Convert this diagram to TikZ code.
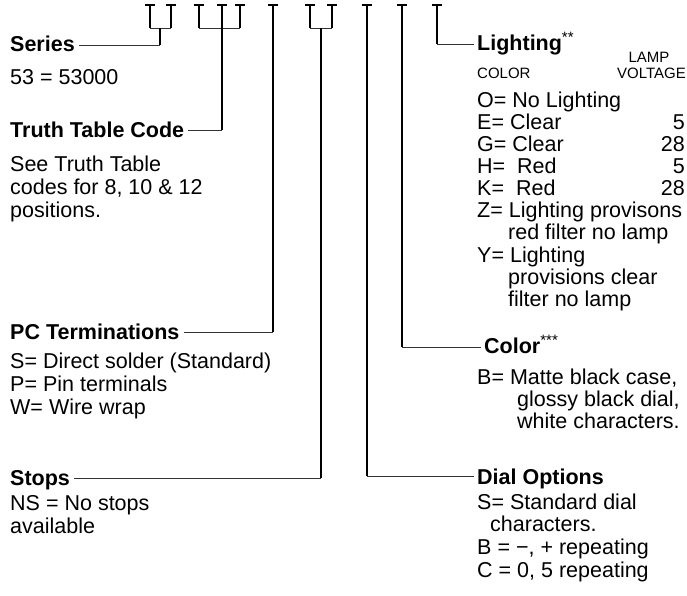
\documentclass[tikz,border=0pt]{standalone}
\usepackage{fontspec}
\setmainfont{Liberation Sans}
\begin{document}
\begin{tikzpicture}[x=1pt,y=-1pt,
  txt/.style={anchor=base west, inner sep=0pt, font=\fontsize{21.5}{24}\selectfont},
  txtr/.style={anchor=base east, inner sep=0pt, font=\fontsize{21.5}{24}\selectfont},
  head/.style={anchor=base west, inner sep=0pt, font=\fontsize{21.5}{24}\selectfont\bfseries},
  smalltxt/.style={inner sep=0pt, font=\fontsize{15}{17}\selectfont},
  tick/.style={fill=black, draw=none, minimum width=10pt, minimum height=2.4pt, inner sep=0pt},
  stem/.style={line width=1.3pt, black},
  conn/.style={line width=0.7pt, black!80}]
\useasboundingbox (0,0) rectangle (687,595);

% ---- top digit marks ----
\node[tick] (m1) at (150,5) {};
\node[tick] (m2) at (171,5) {};
\node[tick] (m3) at (199,5) {};
\node[tick] (m4) at (222,5) {};
\node[tick] (m5) at (240,5) {};
\node[tick] (m6) at (273,5) {};
\node[tick] (m7) at (310,5) {};
\node[tick] (m8) at (332,5) {};
\node[tick] (m9) at (367,5) {};
\node[tick] (m10) at (402,5) {};
\node[tick] (m11) at (437,5) {};

% ---- left column ----
\node[head] (series) at (10,51) {Series};
\node[txt] (series1) at (10,84) {53 = 53000};
\node[head] (ttc) at (10,137) {Truth Table Code};
\node[txt] (ttc1) at (10,171) {See Truth Table};
\node[txt] (ttc2) at (10,194) {codes for 8, 10 \& 12};
\node[txt] (ttc3) at (10,217) {positions.};
\node[head] (pc) at (10,339) {PC Terminations};
\node[txt] (pc1) at (10,368) {S= Direct solder (Standard)};
\node[txt] (pc2) at (10,391) {P= Pin terminals};
\node[txt] (pc3) at (10,414) {W= Wire wrap};
\node[head] (stops) at (10,485) {Stops};
\node[txt] (stops1) at (10,510) {NS = No stops};
\node[txt] (stops2) at (10,533) {available};

% ---- right column ----
\node[head] (light) at (477,50) {Lighting{\normalfont\textsuperscript{**}}};
\node[smalltxt, anchor=base] (lamp) at (649,62) {LAMP};
\node[smalltxt, anchor=base west] (colhd) at (477,78) {COLOR};
\node[smalltxt, anchor=base east] (volt) at (686,78) {VOLTAGE};
\node[txt] (lo) at (477,107) {O= No Lighting};
\node[txt] (le) at (477,129) {E= Clear};
\node[txtr] (le5) at (685,129) {5};
\node[txt] (lg) at (477,151) {G= Clear};
\node[txtr] (lg28) at (685,151) {28};
\node[txt] (lh) at (477,173) {H=\ \ Red};
\node[txtr] (lh5) at (685,173) {5};
\node[txt] (lk) at (477,195) {K=\ \ Red};
\node[txtr] (lk28) at (685,195) {28};
\node[txt] (lz) at (477,217) {Z= Lighting provisons};
\node[txt] (lz2) at (508,239) {red filter no lamp};
\node[txt] (ly) at (477,262) {Y= Lighting};
\node[txt] (ly2) at (508,284) {provisions clear};
\node[txt] (ly3) at (508,306) {filter no lamp};

\node[head] (color) at (484,353) {Color{\normalfont\textsuperscript{***}}};
\node[txt] (cb) at (477,384) {B= Matte black case,};
\node[txt] (cb2) at (517,406) {glossy black dial,};
\node[txt] (cb3) at (517,428) {white characters.};

\node[head] (dial) at (477,484) {Dial Options};
\node[txt] (ds) at (477,509) {S= Standard dial};
\node[txt] (ds2) at (490,531) {characters.};
\node[txt] (db) at (477,554) {B = −, + repeating};
\node[txt] (dc) at (477,577) {C = 0, 5 repeating};

% ---- connector coordinates ----
\coordinate (sbr) at (160,28);
\coordinate (sc) at (160,45);
\coordinate (tbr) at (222,28);
\coordinate (tc) at (222,130);
\coordinate (pcc) at (273,332);
\coordinate (stbr) at (321,28);
\coordinate (stc) at (321,478);
\coordinate (dc1) at (367,476);
\coordinate (cc) at (402,347);
\coordinate (lc) at (437,44);

% Series
\draw[stem] (m1.south) -- (m1.south |- sbr);
\draw[stem] (m2.south) -- (m2.south |- sbr);
\draw[conn] (m1.south |- sbr) -- (m2.south |- sbr);
\draw[stem] (sbr) -- (sc);
\draw[conn] (sc) -- ([xshift=4pt]series.east |- sc);

% Truth Table Code
\draw[stem] (m3.south) -- (m3.south |- tbr);
\draw[stem] (m5.south) -- (m5.south |- tbr);
\draw[conn] (m3.south |- tbr) -- (m5.south |- tbr);
\draw[stem] (m4.south) -- (tc);
\draw[conn] (tc) -- ([xshift=4pt]ttc.east |- tc);

% PC Terminations
\draw[stem] (m6.south) -- (pcc);
\draw[conn] (pcc) -- ([xshift=4pt]pc.east |- pcc);

% Stops
\draw[stem] (m7.south) -- (m7.south |- stbr);
\draw[stem] (m8.south) -- (m8.south |- stbr);
\draw[conn] (m7.south |- stbr) -- (m8.south |- stbr);
\draw[stem] (stbr) -- (stc);
\draw[conn] (stc) -- ([xshift=4pt]stops.east |- stc);

% Dial Options
\draw[stem] (m9.south) -- (dc1);
\draw[conn] (dc1) -- ([xshift=-3pt]dial.west |- dc1);

% Color
\draw[stem] (m10.south) -- (cc);
\draw[conn] (cc) -- ([xshift=-3pt]color.west |- cc);

% Lighting
\draw[stem] (m11.south) -- (lc);
\draw[conn] (lc) -- ([xshift=-3pt]light.west |- lc);
\end{tikzpicture}
\end{document}
